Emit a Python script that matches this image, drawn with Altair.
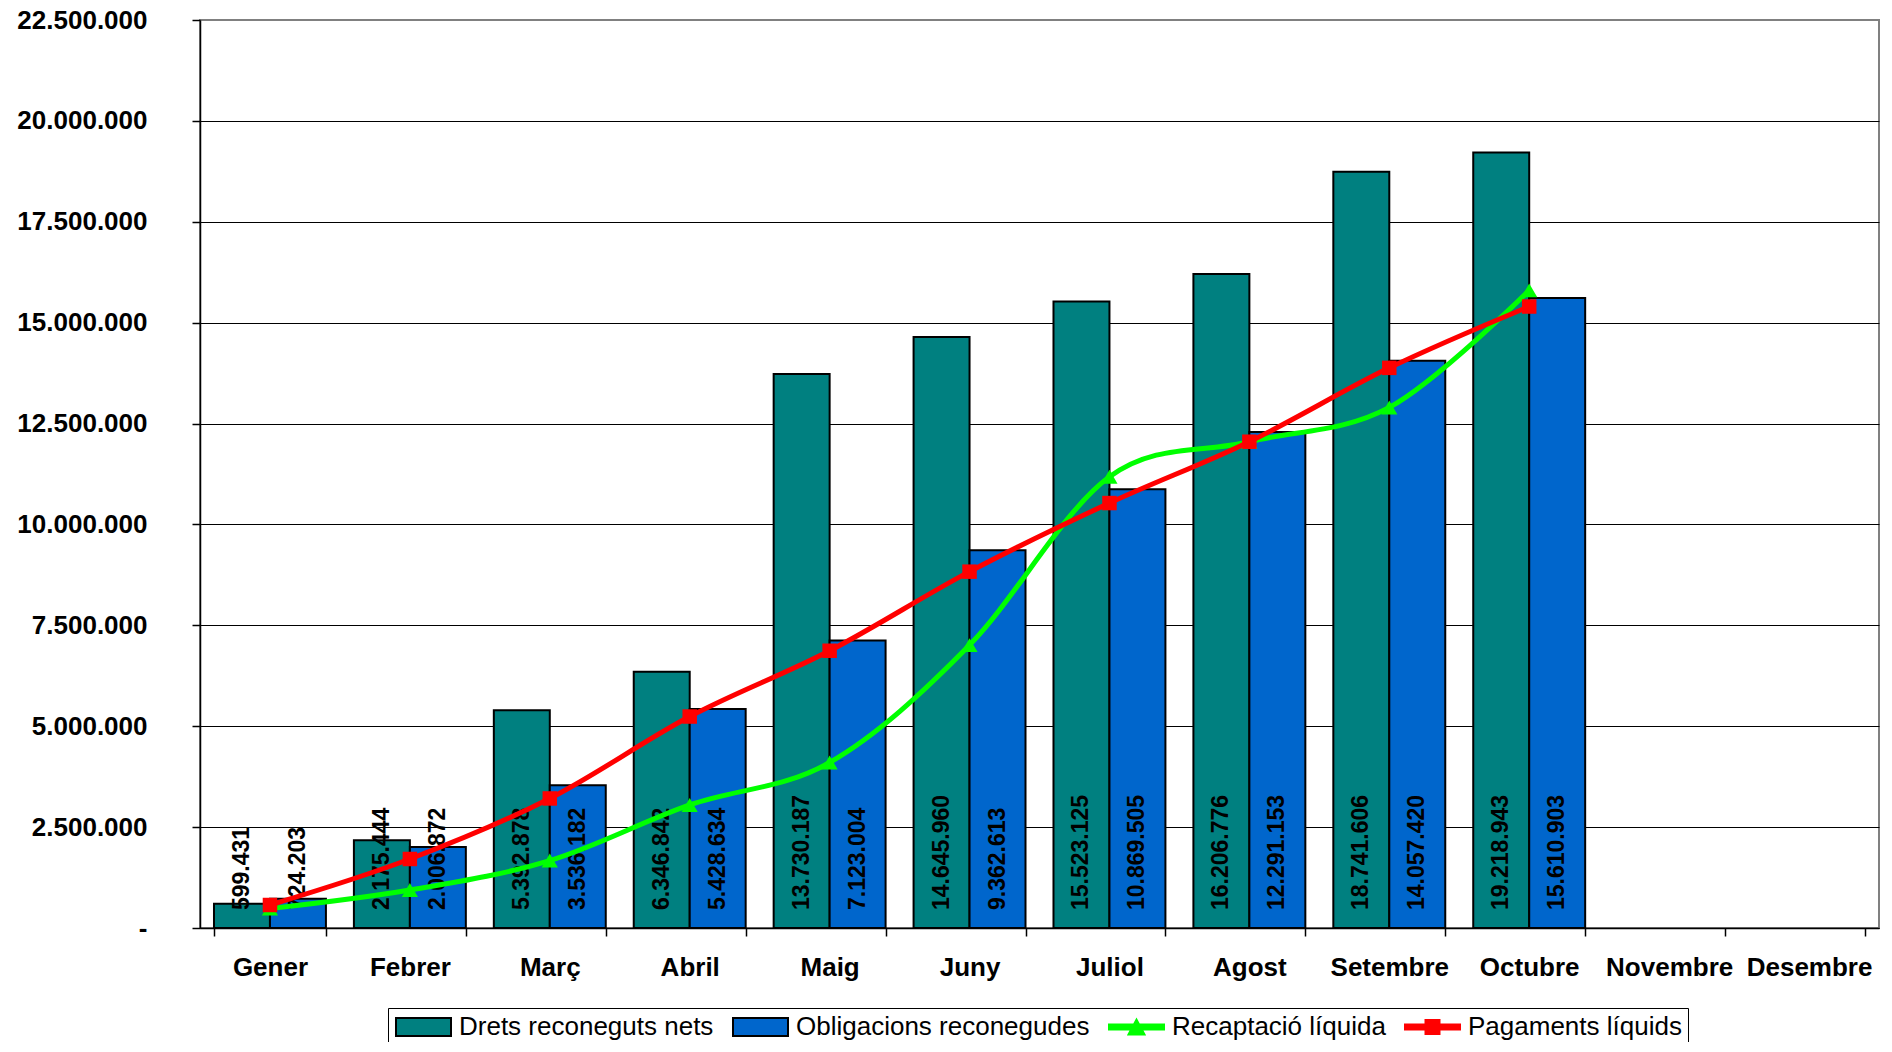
import altair as alt
import pandas as pd

FONT = "Liberation Sans"

months = ["Gener", "Febrer", "Març", "Abril", "Maig", "Juny", "Juliol",
          "Agost", "Setembre", "Octubre", "Novembre", "Desembre"]
data_months = months[:10]

series = ["Drets reconeguts nets", "Obligacions reconegudes",
          "Recaptació líquida", "Pagaments líquids"]

drets = [599431, 2175444, 5392878, 6346842, 13730187, 14645960,
         15523125, 16206776, 18741606, 19218943]
obligacions = [724203, 2006872, 3536182, 5428634, 7123004, 9362613,
               10869505, 12291153, 14057420, 15610903]
recaptacio = [480000, 940000, 1670000, 3050000, 4100000, 7010000,
              11180000, 12050000, 12900000, 15800000]
pagaments = [570000, 1710000, 3210000, 5240000, 6870000, 8830000,
             10530000, 12050000, 13880000, 15400000]

y_ticks = [0, 2500000, 5000000, 7500000, 10000000, 12500000,
           15000000, 17500000, 20000000, 22500000]

fill_colors = ["#008080", "#0066CC", "#00FF00", "#FF0000"]
stroke_colors = ["#000000", "#000000", "#00FF00", "#FF0000"]

# legend symbol shapes (custom SVG paths)
legend_paths = [
    "M-1,-0.818L4,-0.818L4,0.818L-1,0.818Z",
    "M-1,-0.818L4,-0.818L4,0.818L-1,0.818Z",
    "M-1,-0.227L4,-0.227L4,0.227L-1,0.227Z M0.773,0.68L1.5,-0.68L2.227,0.68Z",
    "M-1,-0.227L4,-0.227L4,0.227L-1,0.227Z M0.864,-0.636L2.136,-0.636L2.136,0.636L0.864,0.636Z",
]

bar_df = pd.DataFrame({
    "month": data_months * 2,
    "series": [series[0]] * len(drets) + [series[1]] * len(obligacions),
    "value": drets + obligacions,
})
line_df = pd.DataFrame({
    "month": data_months * 2,
    "series": [series[2]] * len(recaptacio) + [series[3]] * len(pagaments),
    "value": recaptacio + pagaments,
})

x_scale = alt.Scale(domain=months, paddingInner=0.2, paddingOuter=0.1)
y_scale = alt.Scale(domain=[0, 22500000], nice=False, zero=True)

x_axis = alt.Axis(
    title=None, labelAngle=0, labelFontSize=26, labelFontWeight="bold",
    labelColor="black", labelFont=FONT, labelPadding=18, tickSize=8,
    tickColor="black", tickWidth=1.5, domainColor="black", domainWidth=1.5,
    tickBand="extent", labelOverlap=False, labelLimit=300, grid=False,
)
y_axis = alt.Axis(
    title=None, values=y_ticks, format=",.0f",
    labelExpr="datum.value == 0 ? '-' : datum.label",
    labelFontSize=26, labelFontWeight="bold", labelColor="black",
    labelFont=FONT, labelPadding=45, tickSize=8, tickColor="black",
    tickWidth=1.5, domainColor="black", domainWidth=1.5, grid=True,
    gridColor={"condition": {"test": "datum.value >= 22500000",
                             "value": "#808080"}, "value": "#000000"},
    gridWidth=1,
)

x = alt.X("month:N", sort=months, scale=x_scale, axis=x_axis)
y = alt.Y("value:Q", scale=y_scale, axis=y_axis)
x_off = alt.XOffset("series:N", sort=series[:2],
                    scale=alt.Scale(domain=series[:2], paddingInner=0, paddingOuter=0))

bars = alt.Chart(bar_df).mark_bar(stroke="black", strokeWidth=2).encode(
    x=x, xOffset=x_off, y=y,
    fill=alt.Fill("series:N", scale=alt.Scale(domain=series[:2], range=fill_colors[:2]),
                  legend=None),
)

labels = alt.Chart(bar_df).mark_text(
    angle=270, align="left", baseline="middle", dx=18,
    fontSize=23, fontWeight="bold", color="black", font=FONT,
).encode(
    x=x, xOffset=x_off, y=alt.YDatum(0),
    text=alt.Text("value:Q", format=",.0f"),
)

line_green = alt.Chart(line_df).transform_filter(
    alt.datum.series == series[2]
).mark_line(strokeWidth=5, interpolate="cardinal", color=fill_colors[2]).encode(x=x, y=y)

line_red = alt.Chart(line_df).transform_filter(
    alt.datum.series == series[3]
).mark_line(strokeWidth=5, interpolate="cardinal", color=fill_colors[3]).encode(x=x, y=y)

pts_green = alt.Chart(line_df).transform_filter(
    alt.datum.series == series[2]
).mark_point(filled=True, shape="triangle-up", size=260, color=fill_colors[2],
             opacity=1).encode(x=x, y=y)

pts_red = alt.Chart(line_df).transform_filter(
    alt.datum.series == series[3]
).mark_point(filled=True, shape="square", size=210, color=fill_colors[3],
             opacity=1).encode(x=x, y=y)

leg = alt.Legend(
    orient="none", legendX=188, legendY=988, direction="horizontal", columns=4,
    title=None, labelFontSize=26, labelFont=FONT, labelColor="black",
    labelLimit=600, symbolSize=484, symbolStrokeWidth=2, labelOffset=39,
    columnPadding=15, padding=6, strokeColor="black",
    symbolFillColor="white", symbolOpacity=1,
)

legend_layer = alt.Chart(line_df).mark_point(filled=True, opacity=0).encode(
    x=x, y=y,
    color=alt.Color("series:N", scale=alt.Scale(domain=series, range=fill_colors), legend=leg),
    shape=alt.Shape("series:N", scale=alt.Scale(domain=series, range=legend_paths), legend=leg),
    stroke=alt.Stroke("series:N", scale=alt.Scale(domain=series, range=stroke_colors), legend=leg),
)

chart = alt.layer(
    bars, labels, line_green, line_red, pts_green, pts_red, legend_layer
).properties(
    width=1679, height=908,
    padding={"left": 192, "top": 12, "right": 5, "bottom": 114},
    autosize=alt.AutoSizeParams(type="none"),
).configure(
    font=FONT,
    locale={"number": {"decimal": ",", "thousands": ".", "grouping": [3],
                       "currency": ["", " €"]}},
).configure_view(
    stroke="#808080", strokeWidth=2,
)

chart.save("out.html", embed_options={"renderer": "svg", "actions": False})
